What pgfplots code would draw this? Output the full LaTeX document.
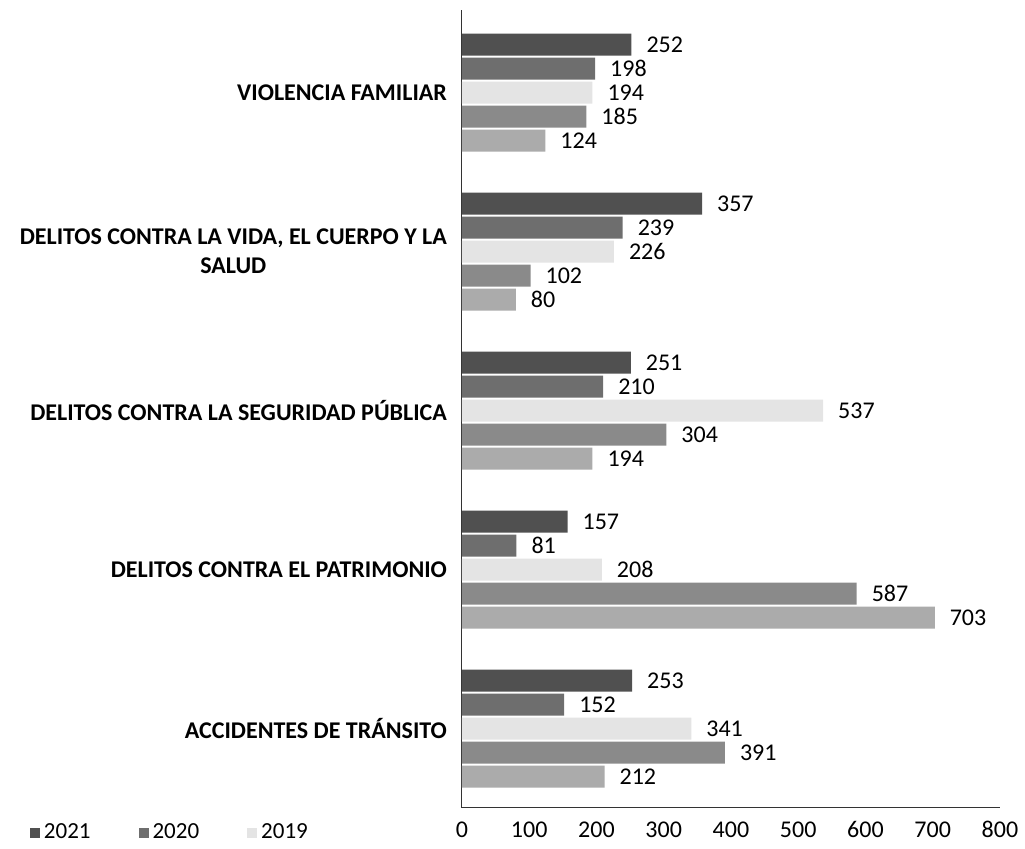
\documentclass[border=0pt]{standalone}
\usepackage{pgfplots}
\pgfplotsset{compat=1.18}
\usepackage{fontspec}
\setmainfont{Carlito}
\definecolor{c21}{HTML}{505050}
\definecolor{c20}{HTML}{6E6E6E}
\definecolor{c19}{HTML}{E4E4E4}
\definecolor{c18}{HTML}{8A8A8A}
\definecolor{c17}{HTML}{ABABAB}
\begin{document}
\begin{tikzpicture}
\path[use as bounding box] (0,0) rectangle (512.5pt,424.5pt);
\begin{axis}[
  at={(231pt,20.5pt)}, anchor=south west,
  scale only axis, width=269pt, height=399pt,
  xbar, bar width=11pt,
  xmin=0, xmax=800, ymin=-0.5, ymax=4.52,
  xtick={0,100,200,300,400,500,600,700,800},
  xticklabels={0,100,200,300,400,500,600,700,800},
  ytick={0,1,2,3,4},
  yticklabels={ACCIDENTES DE TRÁNSITO, DELITOS CONTRA EL PATRIMONIO, DELITOS CONTRA LA SEGURIDAD PÚBLICA, {DELITOS CONTRA LA VIDA, EL CUERPO Y LA\\SALUD}, VIOLENCIA FAMILIAR},
  yticklabel style={font=\fontsize{12pt}{14.5pt}\selectfont\bfseries, align=center, xshift=-4pt},
  xticklabel style={anchor=base, yshift=-15pt, font=\fontsize{12pt}{14pt}\selectfont},
  /pgf/number format/assume math mode=true,
  axis x line*=bottom, axis y line*=left,
  axis line style={black!80, line width=0.5pt},
  major tick length=0pt,
  tick style={draw=none},
  nodes near coords,
  nodes near coords style={anchor=west, xshift=4pt, font=\fontsize{12pt}{14pt}\selectfont, /pgf/number format/assume math mode=true},
  legend columns=3,
  legend style={draw=none, at={(-0.815,-0.031)}, anchor=west, font=\fontsize{11.5pt}{13pt}\selectfont, /tikz/every even column/.append style={column sep=22pt}},
  legend image code/.code={\fill[#1] (0pt,-2.5pt) rectangle (5pt,2.5pt);},
]
\addplot[fill=c21, draw=none, bar shift=24pt] coordinates {(253,0) (157,1) (251,2) (357,3) (252,4)};
\addlegendentry{2021}
\addplot[fill=c20, draw=none, bar shift=12pt] coordinates {(152,0) (81,1) (210,2) (239,3) (198,4)};
\addlegendentry{2020}
\addplot[fill=c19, draw=none, bar shift=0pt] coordinates {(341,0) (208,1) (537,2) (226,3) (194,4)};
\addlegendentry{2019}
\addplot[fill=c18, draw=none, bar shift=-12pt, forget plot] coordinates {(391,0) (587,1) (304,2) (102,3) (185,4)};
\addplot[fill=c17, draw=none, bar shift=-24pt, forget plot] coordinates {(212,0) (703,1) (194,2) (80,3) (124,4)};
\end{axis}
\end{tikzpicture}
\end{document}
